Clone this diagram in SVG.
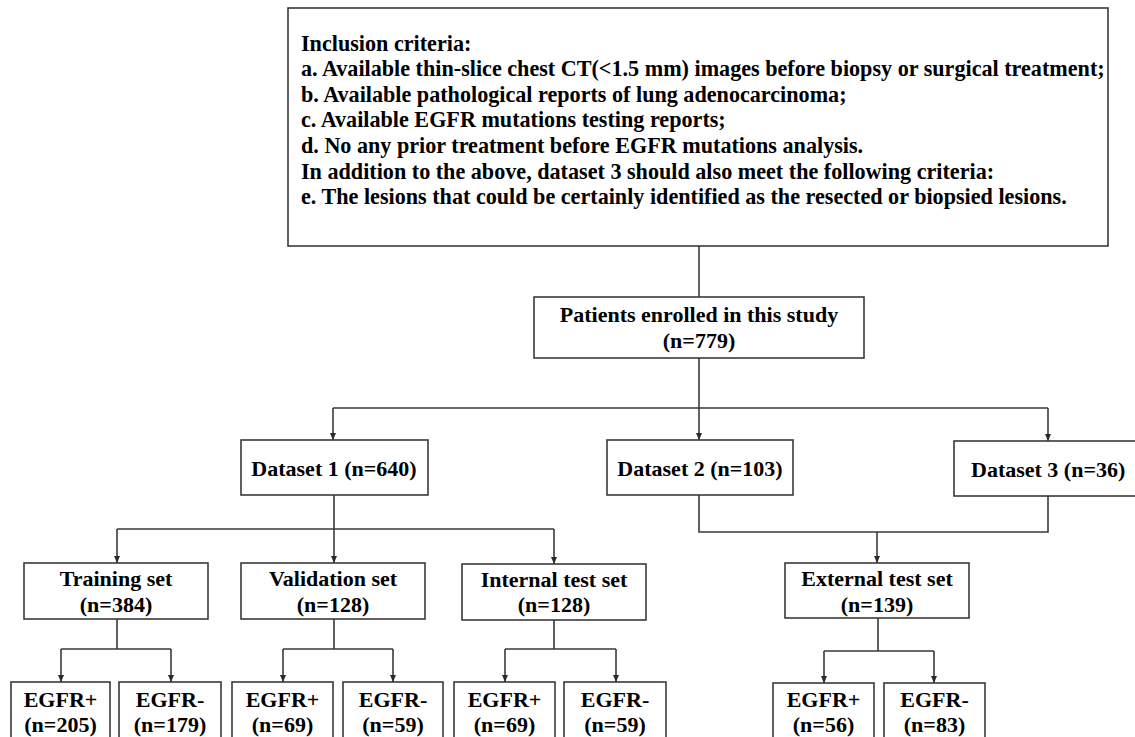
<svg xmlns="http://www.w3.org/2000/svg" width="1135" height="737" viewBox="0 0 1135 737">
<style>
.box{fill:#fff;stroke:#3a3a3a;stroke-width:1.6}
.t{font-family:"Liberation Serif","Times New Roman",serif;font-weight:bold;font-size:22px;fill:#000}
.top{font-size:22.15px}
.c{text-anchor:middle}
.ln{fill:none;stroke:#3a3a3a;stroke-width:1.6}
</style>
<defs>
<marker id="ad" markerUnits="userSpaceOnUse" markerWidth="8" markerHeight="8" viewBox="0 0 8 8" refX="4" refY="7" orient="0">
<path d="M1,0 L7,0 L4,7 Z" fill="#2a2a2a"/>
</marker>
</defs>
<rect width="1135" height="737" fill="#fff"/>

<g id="connectors">
<path class="ln" d="M699,246 V297"/>
<path class="ln" d="M699,358 V408 M333,408 H1048"/>
<path class="ln" d="M333,408 V440" marker-end="url(#ad)"/>
<path class="ln" d="M699,408 V440" marker-end="url(#ad)"/>
<path class="ln" d="M1048,408 V441" marker-end="url(#ad)"/>
<path class="ln" d="M334,495 V529 M117,529 H554"/>
<path class="ln" d="M117,529 V563" marker-end="url(#ad)"/>
<path class="ln" d="M334,529 V563" marker-end="url(#ad)"/>
<path class="ln" d="M554,529 V564" marker-end="url(#ad)"/>
<path class="ln" d="M699,495 V532 H1048 V496"/>
<path class="ln" d="M877,532 V563" marker-end="url(#ad)"/>
<path class="ln" d="M117,619 V649 M61,649 H171"/>
<path class="ln" d="M61,649 V682" marker-end="url(#ad)"/>
<path class="ln" d="M171,649 V682" marker-end="url(#ad)"/>
<path class="ln" d="M334,619 V649 M283,649 H393"/>
<path class="ln" d="M283,649 V682" marker-end="url(#ad)"/>
<path class="ln" d="M393,649 V682" marker-end="url(#ad)"/>
<path class="ln" d="M554,620 V649 M505,649 H616"/>
<path class="ln" d="M505,649 V682" marker-end="url(#ad)"/>
<path class="ln" d="M616,649 V682" marker-end="url(#ad)"/>
<path class="ln" d="M878,618 V651 M824,651 H934"/>
<path class="ln" d="M824,651 V683" marker-end="url(#ad)"/>
<path class="ln" d="M934,651 V683" marker-end="url(#ad)"/>
</g>

<g id="criteria">
<rect class="box" x="288" y="8" width="820" height="238"/>
<text class="t top" x="301" y="50.5">Inclusion criteria:</text>
<text class="t top" x="301" y="76">a. Available thin-slice chest CT(&lt;1.5 mm) images before biopsy or surgical treatment;</text>
<text class="t top" x="301" y="101.7">b. Available pathological reports of lung adenocarcinoma;</text>
<text class="t top" x="301" y="127.3">c. Available EGFR mutations testing reports;</text>
<text class="t top" x="301" y="152.9">d. No any prior treatment before EGFR mutations analysis.</text>
<text class="t top" x="301" y="178.5">In addition to the above, dataset 3 should also meet the following criteria:</text>
<text class="t top" x="301" y="204">e. The lesions that could be certainly identified as the resected or biopsied lesions.</text>
</g>

<g id="patients">
<rect class="box" x="534" y="297" width="330" height="61"/>
<text class="t c" x="699" y="321.7">Patients enrolled in this study</text>
<text class="t c" x="699" y="347.5">(n=779)</text>
</g>

<g id="dataset1">
<rect class="box" x="241" y="440" width="187" height="55"/>
<text class="t c" x="334" y="476">Dataset 1 (n=640)</text>
</g>
<g id="dataset2">
<rect class="box" x="607" y="440" width="186" height="55"/>
<text class="t c" x="700" y="476">Dataset 2 (n=103)</text>
</g>
<g id="dataset3">
<rect class="box" x="954" y="441" width="190" height="55"/>
<text class="t" x="971" y="477">Dataset 3 (n=36)</text>
</g>

<g id="training">
<rect class="box" x="24" y="563" width="184" height="56"/>
<text class="t c" x="116" y="586">Training set</text>
<text class="t c" x="116" y="611.5">(n=384)</text>
</g>
<g id="validation">
<rect class="box" x="241" y="563" width="184" height="56"/>
<text class="t c" x="333" y="586">Validation set</text>
<text class="t c" x="333" y="611.5">(n=128)</text>
</g>
<g id="internal">
<rect class="box" x="462" y="564" width="184" height="56"/>
<text class="t c" x="554" y="586.5">Internal test set</text>
<text class="t c" x="554" y="612">(n=128)</text>
</g>
<g id="external">
<rect class="box" x="785" y="563" width="184" height="55"/>
<text class="t c" x="877" y="586">External test set</text>
<text class="t c" x="877" y="611.5">(n=139)</text>
</g>

<g id="train-pos">
<rect class="box" x="11" y="682" width="99" height="60"/>
<text class="t c" x="60.5" y="706.7">EGFR+</text>
<text class="t c" x="60.5" y="731.7">(n=205)</text>
</g>
<g id="train-neg">
<rect class="box" x="119" y="682" width="102" height="60"/>
<text class="t c" x="170" y="706.7">EGFR-</text>
<text class="t c" x="170" y="731.7">(n=179)</text>
</g>
<g id="val-pos">
<rect class="box" x="232" y="682" width="101" height="60"/>
<text class="t c" x="282.5" y="706.7">EGFR+</text>
<text class="t c" x="282.5" y="731.7">(n=69)</text>
</g>
<g id="val-neg">
<rect class="box" x="343" y="682" width="100" height="60"/>
<text class="t c" x="393" y="706.7">EGFR-</text>
<text class="t c" x="393" y="731.7">(n=59)</text>
</g>
<g id="int-pos">
<rect class="box" x="454" y="682" width="101" height="60"/>
<text class="t c" x="504.5" y="706.7">EGFR+</text>
<text class="t c" x="504.5" y="731.7">(n=69)</text>
</g>
<g id="int-neg">
<rect class="box" x="564" y="682" width="102" height="60"/>
<text class="t c" x="615" y="706.7">EGFR-</text>
<text class="t c" x="615" y="731.7">(n=59)</text>
</g>
<g id="ext-pos">
<rect class="box" x="773" y="683" width="101" height="60"/>
<text class="t c" x="823.5" y="706.7">EGFR+</text>
<text class="t c" x="823.5" y="731.7">(n=56)</text>
</g>
<g id="ext-neg">
<rect class="box" x="884" y="683" width="101" height="60"/>
<text class="t c" x="934.5" y="706.7">EGFR-</text>
<text class="t c" x="934.5" y="731.7">(n=83)</text>
</g>
</svg>
